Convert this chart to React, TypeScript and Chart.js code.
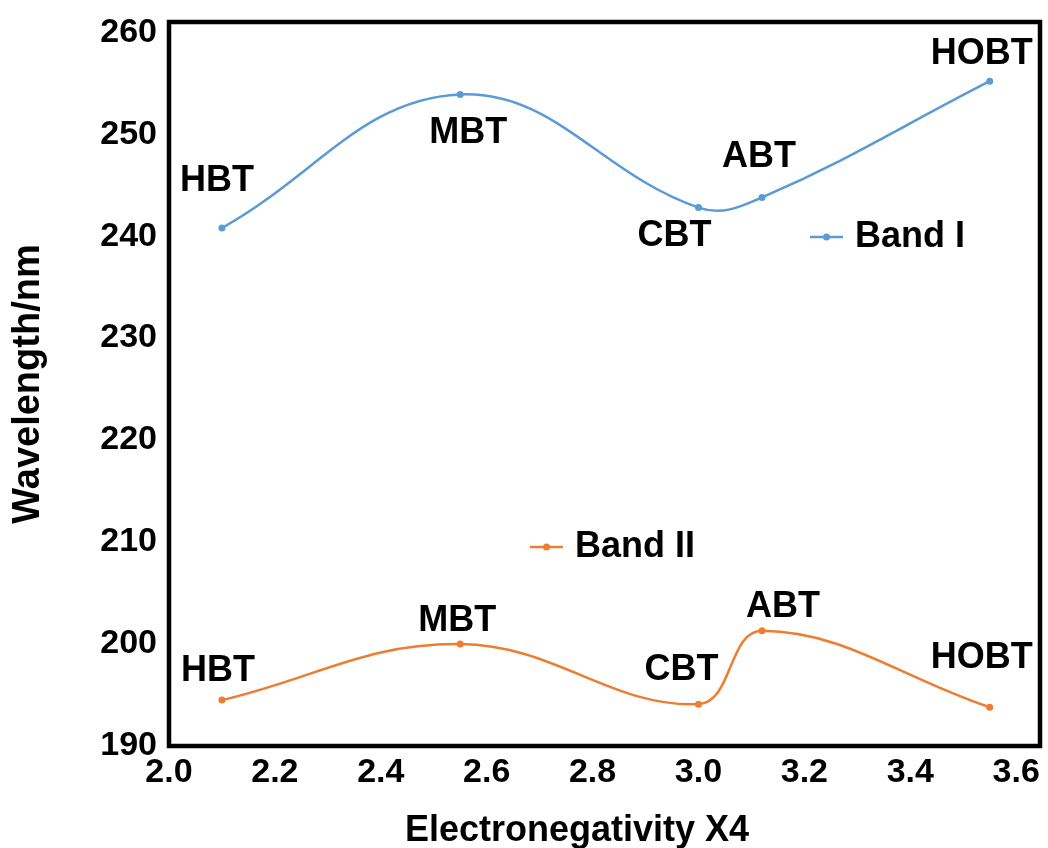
import React, { useEffect, useRef } from "react";
import { Chart, registerables } from "chart.js";

Chart.register(...registerables);

// ---- data ----
const compounds = ["HBT", "MBT", "CBT", "ABT", "HOBT"];
const electronegativity = [2.1, 2.55, 3.0, 3.12, 3.55];
const bandI = [240.8, 253.9, 242.8, 243.8, 255.2];
const bandII = [194.5, 200.0, 194.1, 201.3, 193.8];
const seriesNames = ["Band I", "Band II"];
const xTickValues = [2.0, 2.2, 2.4, 2.6, 2.8, 3.0, 3.2, 3.4, 3.6];
const yTickValues = [190, 200, 210, 220, 230, 240, 250, 260];
const xTitle = "Electronegativity X4";
const yTitle = "Wavelength/nm";

// ---- styles / layout ----
const FONT = '"Liberation Sans", Arial, Helvetica, sans-serif';
const colors = ["#5B9BD5", "#ED7D31"];
// pixel offsets of the point annotations relative to their point
const labelOffsets = [
  [[-5, -47], [8, 39], [-24, 28], [-3, -40], [-8, -27]],
  [[-4, -29], [-3, -23], [-17, -34], [21, -24], [-8, -49]],
];
// legend entries: line start x, y, text start x
const legendPos = [
  { x: 810, y: 237, tx: 855 },
  { x: 530, y: 547, tx: 575 },
];

const overlayPlugin = {
  id: "overlay",
  afterDatasetsDraw(chart: any) {
    const { ctx, chartArea: a, scales } = chart;
    const xs = scales.x;
    const ys = scales.y;
    ctx.save();
    // frame
    ctx.lineWidth = 4.5;
    ctx.strokeStyle = "#000";
    ctx.strokeRect(a.left, a.top, a.right - a.left, a.bottom - a.top);

    // point annotations
    ctx.fillStyle = "#000";
    ctx.textAlign = "center";
    ctx.textBaseline = "middle";
    ctx.font = `bold 36px ${FONT}`;
    [bandI, bandII].forEach((vals, s) => {
      vals.forEach((v, i) => {
        const [dx, dy] = labelOffsets[s][i];
        ctx.fillText(
          compounds[i],
          xs.getPixelForValue(electronegativity[i]) + dx,
          ys.getPixelForValue(v) + dy
        );
      });
    });

    // legend
    seriesNames.forEach((name, s) => {
      const p = legendPos[s];
      ctx.strokeStyle = colors[s];
      ctx.lineWidth = 2.5;
      ctx.beginPath();
      ctx.moveTo(p.x, p.y);
      ctx.lineTo(p.x + 33, p.y);
      ctx.stroke();
      ctx.fillStyle = colors[s];
      ctx.beginPath();
      ctx.arc(p.x + 16.5, p.y, 3.5, 0, Math.PI * 2);
      ctx.fill();
      ctx.fillStyle = "#000";
      ctx.textAlign = "left";
      ctx.fillText(name, p.tx, p.y);
    });

    // x axis title
    ctx.textAlign = "center";
    ctx.font = `bold 36px ${FONT}`;
    ctx.fillText(xTitle, 577, 831);
    ctx.restore();
  },
};

export default function App() {
  const ref = useRef<HTMLCanvasElement | null>(null);

  useEffect(() => {
    document.body.style.margin = "0";
    if (!ref.current) return;
    const mkDs = (label: string, vals: number[], c: string) => ({
      label,
      data: vals.map((v, i) => ({ x: electronegativity[i], y: v })),
      borderColor: c,
      backgroundColor: c,
      borderWidth: 2.5,
      pointRadius: 3.5,
      pointBorderWidth: 0,
      pointBackgroundColor: c,
      tension: 0.4,
      fill: false,
    });
    const chart = new Chart(ref.current, {
      type: "line",
      data: {
        datasets: [
          mkDs(seriesNames[0], bandI, colors[0]),
          mkDs(seriesNames[1], bandII, colors[1]),
        ],
      },
      options: {
        animation: false,
        responsive: false,
        devicePixelRatio: 1,
        layout: { padding: { top: 22, right: 8, bottom: 0, left: 0 } },
        plugins: {
          legend: { display: false },
          tooltip: { enabled: false },
        },
        scales: {
          x: {
            type: "linear",
            min: 2.0,
            max: 3.645,
            grid: { display: false, drawTicks: false },
            border: { display: false },
            afterBuildTicks: (scale: any) => {
              scale.ticks = xTickValues.map((v) => ({ value: v }));
            },
            afterFit: (scale: any) => {
              scale.height = 102;
              scale.paddingLeft = 0;
              scale.paddingRight = 0;
            },
            ticks: {
              padding: 6,
              color: "#000",
              font: { family: FONT, size: 34, weight: "bold" },
              callback: (v: any) => Number(v).toFixed(1),
              maxRotation: 0,
              autoSkip: false,
            },
          },
          y: {
            type: "linear",
            min: 190,
            max: 261,
            grid: { display: false, drawTicks: false },
            border: { display: false },
            afterBuildTicks: (scale: any) => {
              scale.ticks = yTickValues.map((v) => ({ value: v }));
            },
            afterFit: (scale: any) => {
              scale.width = 169;
              scale.paddingTop = 0;
              scale.paddingBottom = 0;
            },
            ticks: {
              padding: 12,
              color: "#000",
              font: { family: FONT, size: 34, weight: "bold" },
              autoSkip: false,
            },
            title: {
              display: true,
              text: yTitle,
              color: "#000",
              font: { family: FONT, size: 38, weight: "bold" },
              padding: { top: 6, bottom: 0 },
            },
          },
        },
      },
      plugins: [overlayPlugin],
    } as any);
    return () => chart.destroy();
  }, []);

  return (
    <div style={{ width: 1048, height: 848 }}>
      <canvas ref={ref} width={1048} height={848} style={{ display: "block" }} />
    </div>
  );
}
